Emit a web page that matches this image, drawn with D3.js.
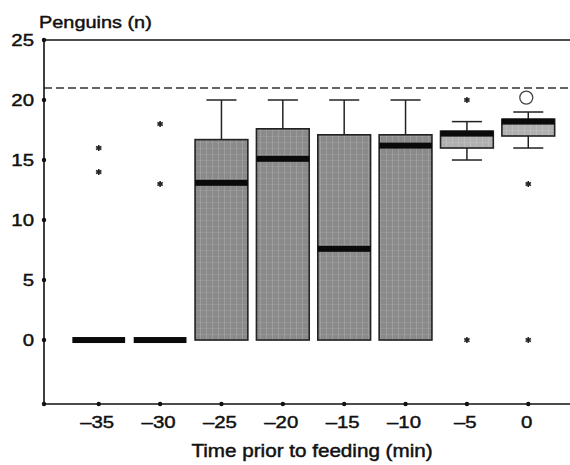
<!DOCTYPE html>
<html>
<head>
<meta charset="utf-8">
<script src="https://cdn.jsdelivr.net/npm/d3@7"></script>
<style>
  body { margin: 0; background: #fff; }
  text { font-family: "Liberation Sans", Arial, sans-serif; fill: #111; stroke: #111; stroke-width: 0.45px; }
</style>
</head>
<body>
<div class="chart"></div>
<script>
// box plot values
var times    = [-35, -30, -25, -20, -15, -10, -5, 0];
var whiskLo  = [0, 0, 0, 0, 0, 0, 15, 16];
var q1       = [0, 0, 0, 0, 0, 0, 16, 17];
var medians  = [0, 0, 13.1, 15.1, 7.6, 16.2, 17.2, 18.2];
var q3       = [0, 0, 16.7, 17.6, 17.1, 17.1, 17.4, 18.4];
var whiskHi  = [0, 0, 20, 20, 20, 20, 18.2, 19];
var lightBox = [false, false, false, false, false, false, true, true];

// outliers (asterisks) and the one extreme (circle)
var starTimes  = [-35, -35, -30, -30, -5, -5, 0, 0];
var starValues = [16, 14, 18, 13, 20, 0, 13, 0];
var circTimes  = [0];
var circValues = [20.2];

var refLine = 21;
var yTicks = [0, 5, 10, 15, 20, 25];
var xTicks = [-35, -30, -25, -20, -15, -10, -5, 0];

var svgWidth = 570, svgHeight = 465;
var stretch = 1.2; // scan is stretched sideways

var svg = d3.select(".chart").append("svg")
  .attr("width", svgWidth)
  .attr("height", svgHeight);

var x = d3.scaleLinear().domain([-39.46, 3.4]).range([44, 570]);
var y = d3.scaleLinear().domain([-5.33, 25]).range([404, 40]);

var step = x(5) - x(0);
var boxW = step * 0.86;
var capW = step * 0.49;

// texture for the boxes
var defs = svg.append("defs");
function texture(id, base, line) {
  var p = defs.append("pattern").attr("id", id)
    .attr("patternUnits", "userSpaceOnUse").attr("width", 6).attr("height", 6);
  p.append("rect").attr("width", 6).attr("height", 6).attr("fill", base);
  p.append("rect").attr("x", 2).attr("width", 1).attr("height", 6).attr("fill", line).attr("opacity", 0.3);
  p.append("rect").attr("y", 4).attr("width", 6).attr("height", 1).attr("fill", line).attr("opacity", 0.2);
}
texture("darkTex", "#8a8a8a", "#c4c4c4");
texture("lightTex", "#b0b0b0", "#d8d8d8");

var rows = times.map(function(t, i) {
  return {t: t, lo: whiskLo[i], q1: q1[i], med: medians[i], q3: q3[i], hi: whiskHi[i], light: lightBox[i]};
});

// frame lines
svg.append("line").attr("x1", 44).attr("x2", 570).attr("y1", y(25)).attr("y2", y(25))
  .attr("stroke", "#111").attr("stroke-width", 1.6);
svg.append("line").attr("x1", 44).attr("x2", 570).attr("y1", y(refLine)).attr("y2", y(refLine))
  .attr("stroke", "#333").attr("stroke-width", 1.3).attr("stroke-dasharray", "8,4");

// axes
var leftAxis = d3.axisLeft(y).tickValues(yTicks).tickSize(0).tickPadding(10).tickFormat(d3.format("d"));
var bottomAxis = d3.axisBottom(x).tickValues(xTicks).tickSize(0).tickPadding(12)
  .tickFormat(function(d) { return d < 0 ? "\u2013" + Math.abs(d) : d; });

var gy = svg.append("g").attr("transform", "translate(44,0)").call(leftAxis);
var gx = svg.append("g").attr("transform", "translate(0,404)").call(bottomAxis);
[gy, gx].forEach(function(g) {
  g.select(".domain").remove();
  g.selectAll("text").attr("font-size", "17px").style("fill", "#111");
});
gy.selectAll(".tick text").attr("x", 0).attr("transform", "translate(-10,0) scale(" + stretch + ",1)");
gx.selectAll(".tick text").attr("transform", "scale(" + stretch + ",1)").attr("dx", "-0.1em");

// axis lines drawn by hand
svg.append("line").attr("x1", 44).attr("x2", 44).attr("y1", y(25)).attr("y2", 404)
  .attr("stroke", "#111").attr("stroke-width", 1.6);
svg.append("line").attr("x1", 44).attr("x2", 570).attr("y1", 404).attr("y2", 404)
  .attr("stroke", "#111").attr("stroke-width", 1.6);

// tick dots
svg.selectAll(".ydot").data(yTicks.concat([-5.33])).enter().append("circle")
  .attr("cx", 44).attr("cy", function(d) { return y(d); }).attr("r", 2.2).attr("fill", "#111");
svg.selectAll(".xdot").data(xTicks).enter().append("circle")
  .attr("cx", function(d) { return x(d); }).attr("cy", 404).attr("r", 2.2).attr("fill", "#111");

// boxes
var boxes = svg.append("g");
var b = boxes.selectAll("g").data(rows).enter().append("g");

b.filter(function(d) { return d.hi > d.q3; }).append("line")
  .attr("x1", function(d) { return x(d.t); }).attr("x2", function(d) { return x(d.t); })
  .attr("y1", function(d) { return y(d.q3); }).attr("y2", function(d) { return y(d.hi); })
  .attr("stroke", "#222").attr("stroke-width", 1.5);
b.filter(function(d) { return d.hi > d.q3; }).append("line")
  .attr("x1", function(d) { return x(d.t) - capW / 2; }).attr("x2", function(d) { return x(d.t) + capW / 2; })
  .attr("y1", function(d) { return y(d.hi); }).attr("y2", function(d) { return y(d.hi); })
  .attr("stroke", "#222").attr("stroke-width", 1.5);
b.filter(function(d) { return d.lo < d.q1; }).append("line")
  .attr("x1", function(d) { return x(d.t); }).attr("x2", function(d) { return x(d.t); })
  .attr("y1", function(d) { return y(d.q1); }).attr("y2", function(d) { return y(d.lo); })
  .attr("stroke", "#222").attr("stroke-width", 1.5);
b.filter(function(d) { return d.lo < d.q1; }).append("line")
  .attr("x1", function(d) { return x(d.t) - capW / 2; }).attr("x2", function(d) { return x(d.t) + capW / 2; })
  .attr("y1", function(d) { return y(d.lo); }).attr("y2", function(d) { return y(d.lo); })
  .attr("stroke", "#222").attr("stroke-width", 1.5);

b.filter(function(d) { return d.q3 > d.q1; }).append("rect")
  .attr("x", function(d) { return x(d.t) - boxW / 2; })
  .attr("width", boxW)
  .attr("y", function(d) { return y(d.q3); })
  .attr("height", function(d) { return y(d.q1) - y(d.q3); })
  .attr("fill", function(d) { return d.light ? "url(#lightTex)" : "url(#darkTex)"; })
  .attr("stroke", "#222").attr("stroke-width", 1.6);

// median bars
b.append("rect")
  .attr("x", function(d) { return x(d.t) - boxW / 2; })
  .attr("width", boxW)
  .attr("y", function(d) { return y(d.med) - 3; })
  .attr("height", 6)
  .attr("fill", "#0a0a0a");

// outliers
var star = d3.symbol().type(d3.symbolAsterisk).size(26);
svg.selectAll(".star").data(starTimes).enter().append("path")
  .attr("d", star)
  .attr("transform", function(d, i) { return "translate(" + x(d) + "," + y(starValues[i]) + ")"; })
  .attr("fill", "none").attr("stroke", "#222").attr("stroke-width", 1.6);

svg.selectAll(".ext").data(circTimes).enter().append("circle")
  .attr("cx", function(d) { return x(d) - 2; })
  .attr("cy", function(d, i) { return y(circValues[i]); })
  .attr("r", 6.5)
  .attr("fill", "none").attr("stroke", "#444").attr("stroke-width", 1.3);

// axis titles
svg.append("text")
  .attr("transform", "translate(39,28) scale(1.17,1)")
  .attr("font-size", "17px")
  .text("Penguins (n)");

svg.append("text")
  .attr("transform", "translate(312,457) scale(1.18,1)")
  .attr("text-anchor", "middle")
  .attr("font-size", "17.5px")
  .text("Time prior to feeding (min)");
</script>
</body>
</html>
